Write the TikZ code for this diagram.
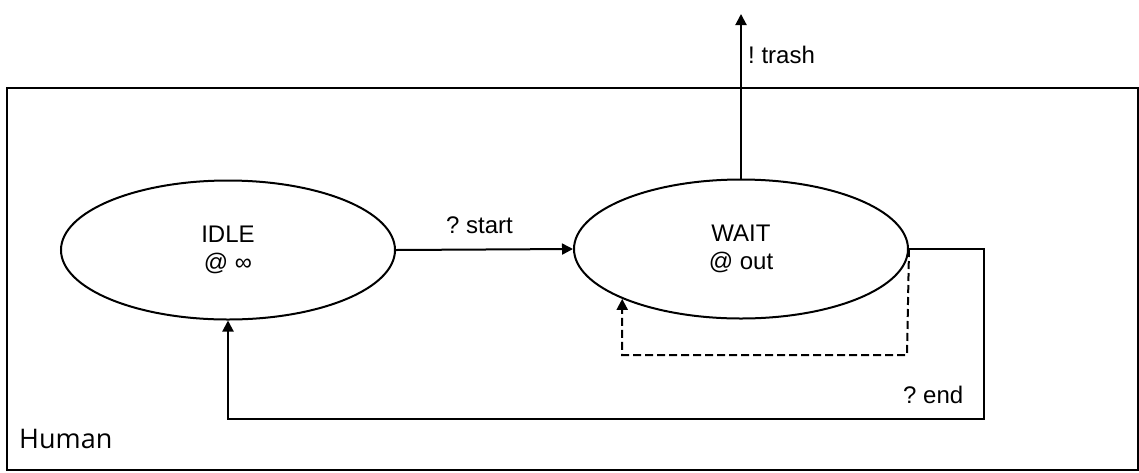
\documentclass[tikz,border=0pt]{standalone}
\usepackage{fontspec}
\setmainfont{Liberation Sans}
\newfontfamily\humanfont{Open Sans}
\usetikzlibrary{shapes.geometric,arrows.meta}
\frenchspacing
\begin{document}
\begin{tikzpicture}[x=1pt,y=-1pt,
  every node/.style={font=\fontsize{24}{28}\selectfont},
  state/.style={draw, ellipse, line width=2pt, minimum width=334pt, minimum height=139pt, align=center, inner sep=0pt},
  edge/.style={line width=2pt, -{Triangle[length=11pt,width=11pt]}},
  lbl/.style={anchor=base west, inner sep=0pt}]
\useasboundingbox (0,0) rectangle (1139,472);
\node[draw, line width=2pt, minimum width=1131pt, minimum height=382pt, anchor=north west, inner sep=0pt] (box) at (6,87) {};
\node[state] (idle) at (228,250) {IDLE\\@ ∞};
\node[state] (wait) at (741,249) {WAIT\\@ out};
\coordinate (top) at (741,14);
\coordinate (r1) at (984,249);
\coordinate (r2) at (984,419);
\coordinate (d1) at (907,355);
\draw[edge] (idle.east) -- (wait.west);
\draw[edge] (wait.north) -- (top);
\draw[edge] (wait.east) -- (r1) -- (r2) -| (idle.south);
\draw[edge, dash pattern=on 8pt off 4pt] (wait.east) -- (d1) -| (wait.south west);
\node[lbl] (ls) at (446,233) {? start};
\node[lbl] (lt) at (748,63) {! trash};
\node[lbl] (le) at (903,403) {? end};
\node[lbl, font=\humanfont\fontsize{27}{32}\selectfont] (lh) at (19,448) {Human};
\end{tikzpicture}
\end{document}
